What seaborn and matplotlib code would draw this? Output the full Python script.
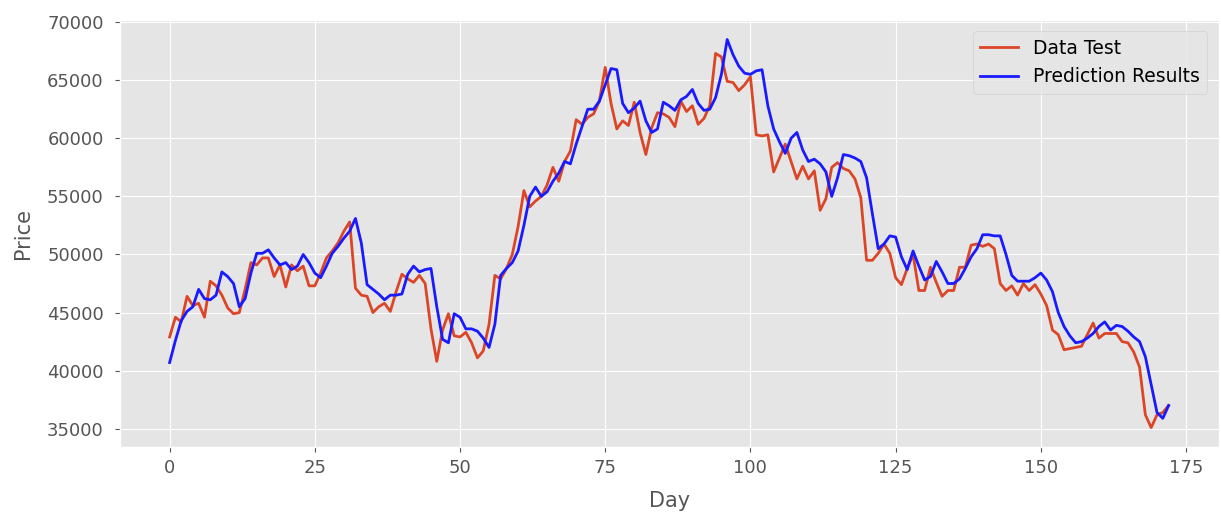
import numpy as np
import pandas as pd
import matplotlib
matplotlib.use("Agg")
import matplotlib.pyplot as plt
import seaborn as sns

data_test = [
    42900, 44600, 44200, 46400, 45600, 45800, 44600, 47700, 47300, 46500,
    45400, 44900, 45000, 47000, 49300, 49100, 49700, 49700, 48100, 49100,
    47200, 49100, 48600, 49000, 47300, 47300, 48400, 49700, 50300, 51000,
    52000, 52800, 47100, 46500, 46400, 45000, 45500, 45800, 45100, 46800,
    48300, 47900, 47600, 48200, 47500, 43600, 40800, 43500, 44900, 43000,
    42900, 43300, 42400, 41100, 41700, 44000, 48200, 47900, 48800, 50000,
    52400, 55500, 54100, 54600, 55000, 56000, 57500, 56300, 58000, 58900,
    61600, 61200, 61800, 62100, 63200, 66100, 63000, 60800, 61500, 61100,
    63100, 60500, 58600, 60900, 62200, 62100, 61800, 61000, 63200, 62300,
    62800, 61200, 61700, 62800, 67300, 67000, 64900, 64800, 64100, 64600,
    65300, 60300, 60200, 60300, 57100, 58300, 59500, 58000, 56500, 57600,
    56500, 57200, 53800, 54800, 57500, 57900, 57400, 57200, 56500, 54900,
    49500, 49500, 50100, 50900, 50100, 48000, 47400, 48800, 50000, 46900,
    46900, 48900, 47600, 46400, 46900, 46900, 48900, 48900, 50800, 50900,
    50700, 50900, 50500, 47500, 46900, 47300, 46500, 47500, 46900, 47400,
    46600, 45600, 43500, 43100, 41800, 41900, 42000, 42100, 43100, 44100,
    42800, 43200, 43200, 43200, 42500, 42400, 41600, 40300, 36200, 35100,
    36200, 36400, 37000,
]

prediction = [
    40700, 42600, 44300, 45100, 45500, 47000, 46200, 46100, 46500, 48500,
    48100, 47500, 45500, 46200, 48400, 50100, 50100, 50400, 49700, 49100,
    49300, 48700, 49000, 50000, 49300, 48400, 48000, 49000, 50100, 50700,
    51400, 52000, 53100, 51000, 47400, 47000, 46600, 46100, 46500, 46500,
    46600, 48300, 49000, 48500, 48700, 48800, 45500, 42700, 42400, 44900,
    44600, 43600, 43600, 43400, 42800, 42000, 44000, 48200, 48800, 49300,
    50300, 52500, 55000, 55800, 55000, 55400, 56300, 57000, 58000, 57800,
    59500, 61000, 62500, 62500, 63200, 64600, 66000, 65900, 63000, 62200,
    62600, 63200, 61500, 60500, 60800, 63100, 62800, 62400, 63300, 63600,
    64200, 63000, 62400, 62500, 63500, 65500, 68500, 67200, 66200, 65600,
    65500, 65800, 65900, 62800, 60800, 59700, 58700, 60000, 60500, 59000,
    58000, 58200, 57800, 57100, 55000, 56600, 58600, 58500, 58300, 58000,
    56600, 53500, 50500, 50900, 51600, 51500, 49800, 48700, 50300, 49000,
    47800, 48100, 49400, 48500, 47500, 47500, 47900, 48800, 49800, 50500,
    51700, 51700, 51600, 51600, 50000, 48200, 47700, 47700, 47700, 48000,
    48400, 47800, 46800, 45000, 43800, 43000, 42400, 42500, 42800, 43200,
    43800, 44200, 43500, 43900, 43800, 43400, 42900, 42500, 41200, 38800,
    36400, 35900, 37000,
]

series_names = ["Data Test", "Prediction Results"]

days = np.arange(len(data_test))
df = pd.DataFrame({
    "Day": np.concatenate([days, days]),
    "Price": np.concatenate([data_test, prediction]),
    "Series": [series_names[0]] * len(days) + [series_names[1]] * len(days),
})

plt.style.use("ggplot")
plt.rcParams["font.family"] = ["DejaVu Sans"]

fig = plt.figure(figsize=(12.21, 5.15), dpi=100)
ax = fig.add_axes([0.098, 0.132, 0.9, 0.829])

sns.lineplot(
    data=df, x="Day", y="Price", hue="Series",
    palette={series_names[0]: "#DC4628", series_names[1]: "#1a1aff"},
    linewidth=2.0, ax=ax,
)

ax.set_xticks([0, 25, 50, 75, 100, 125, 150, 175])
ax.set_yticks(np.arange(35000, 70001, 5000))
ax.tick_params(axis="both", labelsize=13, colors="#555555")
ax.tick_params(axis="y", pad=8)
ax.tick_params(axis="x", pad=5)
ax.set_xlabel("Day", fontsize=15, color="#555555", labelpad=10)
ax.set_ylabel("Price", fontsize=15, color="#555555", labelpad=10)

leg = ax.legend(loc="upper right", fontsize=13.5, frameon=True,
                borderaxespad=0.6)
leg.get_frame().set_facecolor("#E5E5E5")
leg.get_frame().set_edgecolor("#CCCCCC")

fig.savefig("out.png", dpi=100)
